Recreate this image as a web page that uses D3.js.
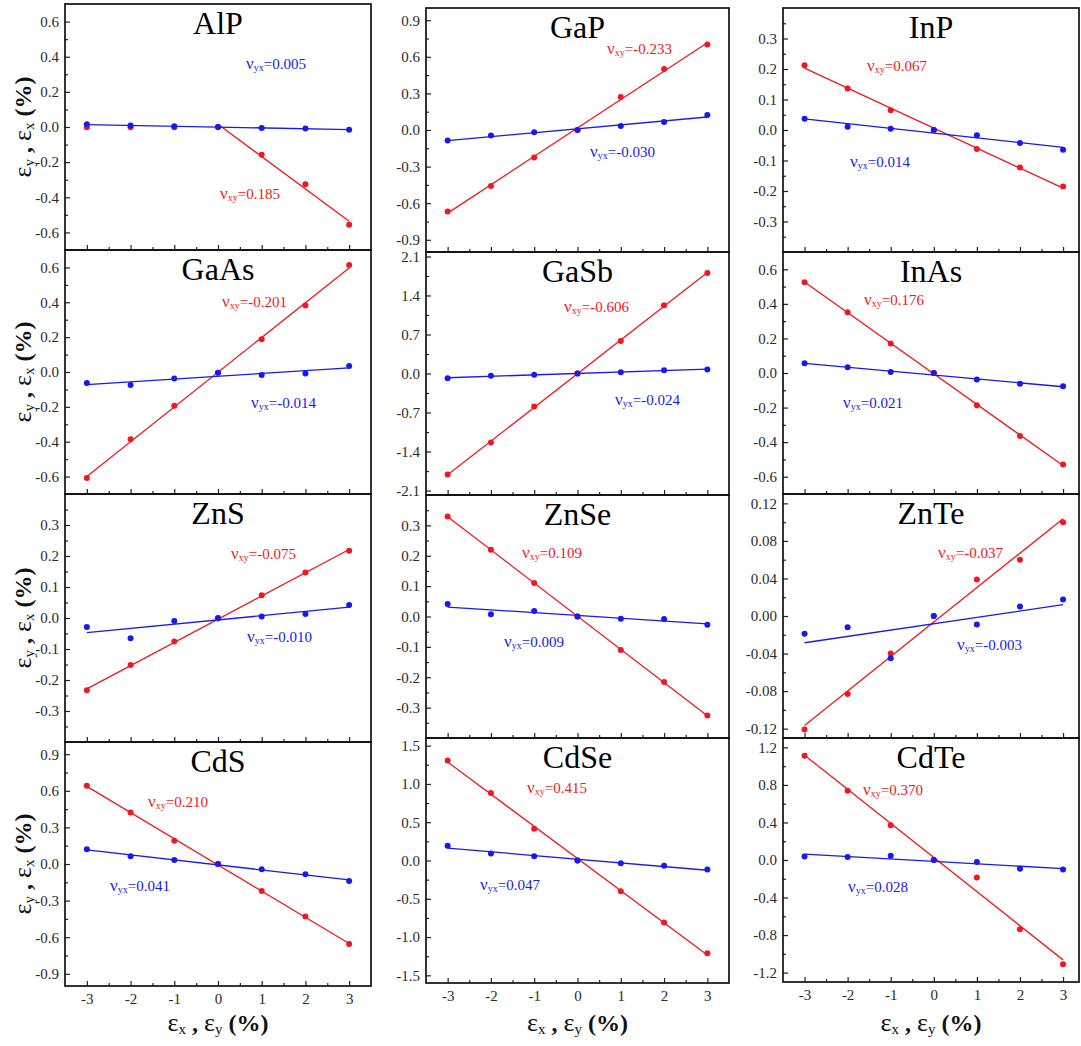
<!DOCTYPE html>
<html>
<head>
<meta charset="utf-8">
<script src="https://cdn.jsdelivr.net/npm/d3@7"></script>
<style>
  body { margin: 0; background: #fff; }
  svg { display: block; }
</style>
</head>
<body>
<svg id="fig" width="1081" height="1046"></svg>
<script>
// ---- data -------------------------------------------------------------
const materials = ["AlP", "GaP", "InP", "GaAs", "GaSb", "InAs",
                   "ZnS", "ZnSe", "ZnTe", "CdS", "CdSe", "CdTe"];

// applied uniaxial strain (%)
const strain = [-3, -2, -1, 0, 1, 2, 3];

// transverse strain response along y (red) for each material (%)
const epsY = [
  [-0.002, -0.002, -0.002, 0, -0.158, -0.326, -0.557],
  [-0.668, -0.458, -0.226, 0, 0.270, 0.499, 0.700],
  [0.212, 0.136, 0.065, 0, -0.062, -0.123, -0.185],
  [-0.608, -0.386, -0.194, -0.004, 0.188, 0.382, 0.614],
  [-1.810, -1.237, -0.590, 0, 0.585, 1.225, 1.805],
  [0.525, 0.352, 0.171, 0, -0.187, -0.365, -0.529],
  [-0.233, -0.152, -0.076, -0.002, 0.073, 0.147, 0.217],
  [0.329, 0.220, 0.110, 0, -0.110, -0.216, -0.326],
  [-0.121, -0.083, -0.040, 0, 0.039, 0.060, 0.100],
  [0.641, 0.423, 0.191, 0, -0.221, -0.431, -0.655],
  [1.307, 0.883, 0.415, 0, -0.402, -0.809, -1.211],
  [1.111, 0.739, 0.371, 0, -0.186, -0.739, -1.111]
];

// transverse strain response along x (blue) for each material (%)
const epsX = [
  [0.015, 0.008, 0.004, 0, -0.006, -0.009, -0.015],
  [-0.087, -0.046, -0.019, 0, 0.033, 0.065, 0.123],
  [0.037, 0.011, 0.004, 0, -0.017, -0.043, -0.065],
  [-0.063, -0.075, -0.038, -0.004, -0.017, -0.008, 0.035],
  [-0.084, -0.042, -0.024, 0, 0.024, 0.060, 0.072],
  [0.056, 0.033, 0.006, 0, -0.038, -0.062, -0.077],
  [-0.029, -0.065, -0.010, 0, 0.005, 0.013, 0.042],
  [0.041, 0.007, 0.018, 0, -0.007, -0.008, -0.027],
  [-0.019, -0.012, -0.045, 0, -0.009, 0.010, 0.0175],
  [0.120, 0.063, 0.033, 0, -0.044, -0.085, -0.139],
  [0.192, 0.092, 0.057, 0, -0.035, -0.070, -0.118],
  [0.036, 0.032, 0.046, 0, -0.021, -0.093, -0.100]
];

// Poisson's ratios
const nuXY = ["0.185", "-0.233", "0.067", "-0.201", "-0.606", "0.176",
              "-0.075", "0.109", "-0.037", "0.210", "0.415", "0.370"];
const nuYX = ["0.005", "-0.030", "0.014", "-0.014", "-0.024", "0.021",
              "-0.010", "0.009", "-0.003", "0.041", "0.047", "0.028"];

// lowest strain included in the linear fit of the red series
const fitFromY = [0, -3, -3, -3, -3, -3, -3, -3, -3, -3, -3, -3];

// y-axis limits and labelled ticks per panel
const yLimits = [[-0.7, 0.7], [-1, 1], [-0.4, 0.4], [-0.7, 0.7], [-2.18, 2.18], [-0.7, 0.7],
                 [-0.4, 0.4], [-0.4, 0.4], [-0.13, 0.13], [-1, 1], [-1.6, 1.6], [-1.3, 1.3]];
const yTicks = [
  [-0.6, -0.4, -0.2, 0, 0.2, 0.4, 0.6],
  [-0.9, -0.6, -0.3, 0, 0.3, 0.6, 0.9],
  [-0.3, -0.2, -0.1, 0, 0.1, 0.2, 0.3],
  [-0.6, -0.4, -0.2, 0, 0.2, 0.4, 0.6],
  [-2.1, -1.4, -0.7, 0, 0.7, 1.4, 2.1],
  [-0.6, -0.4, -0.2, 0, 0.2, 0.4, 0.6],
  [-0.3, -0.2, -0.1, 0, 0.1, 0.2, 0.3],
  [-0.3, -0.2, -0.1, 0, 0.1, 0.2, 0.3],
  [-0.12, -0.08, -0.04, 0, 0.04, 0.08, 0.12],
  [-0.9, -0.6, -0.3, 0, 0.3, 0.6, 0.9],
  [-1.5, -1.0, -0.5, 0, 0.5, 1.0, 1.5],
  [-1.2, -0.8, -0.4, 0, 0.4, 0.8, 1.2]
];
const yDecimals = [1, 1, 1, 1, 1, 1, 1, 1, 2, 1, 1, 1];
const xTicks = [-3, -2, -1, 0, 1, 2, 3];

// ---- layout -----------------------------------------------------------
const colX = [[65, 371], [426, 729], [783, 1079]];
const colXDomain = [[-3.5, 3.5], [-3.5, 3.5], [-3.5, 3.37]];
const rowY = [[4, 250, 494, 742, 986], [8, 252, 495, 738, 983], [8, 252, 494, 738, 982]];
// [red dx, red dy, blue dx, blue dy] of the ratio annotations, from panel top-left
const noteOffsets = [
  [155, 195, 181, 65], [181, 46, 164, 149], [84, 63, 67, 159],
  [157, 57, 186, 158], [138, 60, 189, 153], [81, 53, 60, 156],
  [166, 65, 182, 148], [96, 63, 78, 152], [155, 64, 174, 156],
  [83, 65, 45, 149], [101, 55, 54, 152], [80, 57, 65, 154]
];

const RED = "#f01820";
const BLUE = "#1818f0";
const SERIF = "'Liberation Serif', 'Times New Roman', serif";

const svg = d3.select("#fig");

function rich(sel, parts) {
  parts.forEach(p => {
    const t = sel.append("tspan").text(p.t).attr("font-size", p.size);
    if (p.dy) t.attr("dy", p.dy);
    if (p.weight) t.attr("font-weight", p.weight);
  });
}

function leastSquares(xs, ys) {
  const mx = d3.mean(xs), my = d3.mean(ys);
  let sxy = 0, sxx = 0;
  xs.forEach((x, i) => { sxy += (x - mx) * (ys[i] - my); sxx += (x - mx) * (x - mx); });
  const slope = sxy / sxx;
  return { slope, intercept: my - slope * mx };
}

materials.forEach((name, i) => {
  const col = i % 3, row = Math.floor(i / 3);
  const [x0, x1] = colX[col];
  const y0 = rowY[col][row], y1 = rowY[col][row + 1];
  const w = x1 - x0, h = y1 - y0;

  const x = d3.scaleLinear().domain(colXDomain[col]).range([0, w]);
  const y = d3.scaleLinear().domain(yLimits[i]).range([h, 0]);

  const g = svg.append("g").attr("transform", `translate(${x0},${y0})`);

  // minor ticks: halfway between labelled ticks, plus one half-step beyond the ends
  const yt = yTicks[i];
  const stepY = yt[1] - yt[0];
  const yMinor = d3.range(yt.length + 1).map(k => yt[0] - stepY / 2 + k * stepY)
    .filter(v => v > yLimits[i][0] + 1e-9 && v < yLimits[i][1] - 1e-9);
  const xMinor = d3.range(strain.length + 1).map(k => strain[0] - 0.5 + k)
    .filter(v => v > colXDomain[col][0] + 1e-9 && v < colXDomain[col][1] - 1e-9);

  const styleAxis = a => {
    a.select(".domain").remove();
    a.selectAll("line").attr("stroke", "#222").attr("stroke-width", 1.2);
    a.selectAll("text").attr("font-family", SERIF).attr("font-size", 15).attr("fill", "#2a2a2a");
  };

  g.append("g")
    .call(d3.axisLeft(y).tickValues(yt).tickSizeInner(-5).tickSizeOuter(0).tickPadding(6)
      .tickFormat(d => d.toFixed(yDecimals[i])))
    .call(styleAxis);
  g.append("g")
    .call(d3.axisLeft(y).tickValues(yMinor).tickSizeInner(-3).tickSizeOuter(0).tickFormat(""))
    .call(styleAxis);

  g.append("g").attr("transform", `translate(0,${h})`)
    .call(d3.axisBottom(x).tickValues(xTicks).tickSizeInner(-5).tickSizeOuter(0).tickPadding(7)
      .tickFormat(row === 3 ? (d => String(d)) : ""))
    .call(styleAxis);
  g.append("g").attr("transform", `translate(0,${h})`)
    .call(d3.axisBottom(x).tickValues(xMinor).tickSizeInner(-3).tickSizeOuter(0).tickFormat(""))
    .call(styleAxis);

  // frame
  g.append("rect").attr("width", w).attr("height", h)
    .attr("fill", "none").attr("stroke", "#111").attr("stroke-width", 1.7);

  // fitted lines
  const line = d3.line().x(d => x(d[0])).y(d => y(d[1]));
  const series = [
    { vals: epsY[i], from: fitFromY[i], color: RED },
    { vals: epsX[i], from: -3, color: BLUE }
  ];
  series.forEach(s => {
    const xs = strain.filter(v => v >= s.from);
    const ys = s.vals.filter((v, k) => strain[k] >= s.from);
    const f = leastSquares(xs, ys);
    const ends = [d3.min(xs), d3.max(xs)];
    g.append("path")
      .datum(ends.map(v => [v, f.intercept + f.slope * v]))
      .attr("d", line).attr("fill", "none")
      .attr("stroke", s.color).attr("stroke-width", 1.3);
  });
  series.forEach(s => {
    g.append("g").selectAll("circle")
      .data(s.vals.map((v, k) => [strain[k], v]))
      .join("circle")
      .attr("cx", d => x(d[0])).attr("cy", d => y(d[1]))
      .attr("r", 3).attr("fill", s.color);
  });

  // title
  g.append("text").attr("x", w / 2).attr("y", 30)
    .attr("text-anchor", "middle").attr("font-family", SERIF)
    .attr("font-size", 32).attr("fill", "#000").text(name);

  // Poisson's ratio annotations
  const off = noteOffsets[i];
  const noteR = g.append("text").attr("x", off[0]).attr("y", off[1])
    .attr("font-family", SERIF).attr("fill", RED);
  rich(noteR, [{ t: "ν", size: 17 }, { t: "xy", size: 10, dy: 2 }, { t: "=" + nuXY[i], size: 15, dy: -2 }]);
  const noteB = g.append("text").attr("x", off[2]).attr("y", off[3])
    .attr("font-family", SERIF).attr("fill", BLUE);
  rich(noteB, [{ t: "ν", size: 17 }, { t: "yx", size: 10, dy: 2 }, { t: "=" + nuYX[i], size: 15, dy: -2 }]);

  // y-axis title on the left column
  if (col === 0) {
    const yt2 = g.append("text")
      .attr("transform", `translate(${-34},${h / 2}) rotate(-90)`)
      .attr("text-anchor", "middle").attr("font-family", SERIF).attr("fill", "#111");
    rich(yt2, [
      { t: "ε", size: 26 }, { t: "y", size: 15, dy: 3 },
      { t: " , ", size: 24, dy: -3, weight: "bold" },
      { t: "ε", size: 26 }, { t: "x", size: 15, dy: 3 },
      { t: " (%)", size: 24, dy: -3, weight: "bold" }
    ]);
  }

  // x-axis title below the bottom row
  if (row === 3) {
    const xt = svg.append("text")
      .attr("x", (x0 + x1) / 2).attr("y", 1031)
      .attr("text-anchor", "middle").attr("font-family", SERIF).attr("fill", "#111");
    rich(xt, [
      { t: "ε", size: 26 }, { t: "x", size: 15, dy: 3 },
      { t: " , ", size: 24, dy: -3, weight: "bold" },
      { t: "ε", size: 26 }, { t: "y", size: 15, dy: 3 },
      { t: " (%)", size: 24, dy: -3, weight: "bold" }
    ]);
  }
});
</script>
</body>
</html>
